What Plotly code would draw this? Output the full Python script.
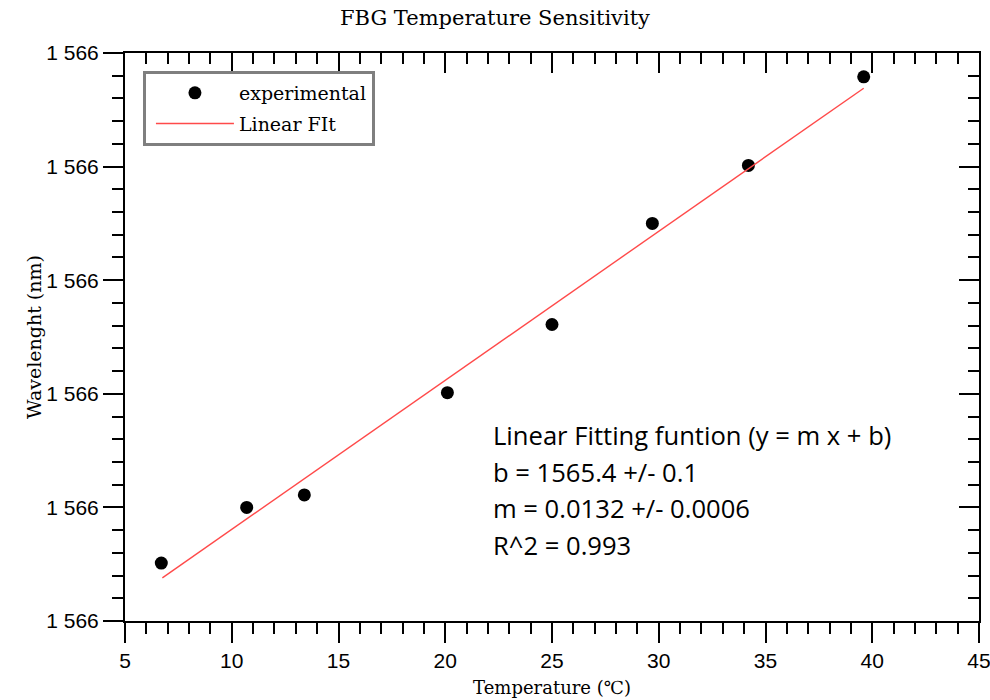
import plotly.graph_objects as go

# Data
temp_c = [6.7, 10.7, 13.4, 20.1, 25.0, 29.7, 34.2, 39.6]
wavelength_nm = [1565.451, 1565.500, 1565.511, 1565.601, 1565.661, 1565.750, 1565.801, 1565.879]
fit_x = [6.75, 39.6]
fit_y = [1565.438, 1565.869]

x_ticks = [5, 10, 15, 20, 25, 30, 35, 40, 45]
y_ticks = [1565.4, 1565.5, 1565.6, 1565.7, 1565.8, 1565.9]
y_ticktext = ["1 566"] * len(y_ticks)

fit_lines = [
    "Linear Fitting funtion (y = m x + b)",
    "b = 1565.4 +/- 0.1",
    "m = 0.0132 +/- 0.0006",
    "R^2 = 0.993",
]

X_RANGE = [5, 45]
Y_RANGE = [1565.4, 1565.9]

SERIF = "DejaVu Serif"
SANS = "Liberation Sans"

fig = go.Figure()
fig.add_trace(go.Scatter(
    x=temp_c, y=wavelength_nm, mode="markers", name="experimental",
    marker=dict(color="black", size=13), legendgroup="a",
))
fig.add_trace(go.Scatter(
    x=fit_x, y=fit_y, mode="lines", name="Linear FIt",
    line=dict(color="#ff4a4a", width=1.4), legendgroup="b",
))
# invisible traces to activate mirrored tick axes
fig.add_trace(go.Scatter(x=[], y=[], xaxis="x2", yaxis="y", showlegend=False, hoverinfo="skip"))
fig.add_trace(go.Scatter(x=[], y=[], xaxis="x", yaxis="y2", showlegend=False, hoverinfo="skip"))

tick_common = dict(tickcolor="black", tickwidth=2, ticklen=20, automargin=False)

fig.update_layout(
    width=990, height=700,
    margin=dict(l=125, r=11, t=53, b=79, autoexpand=False),
    paper_bgcolor="white", plot_bgcolor="white",
    title=dict(text="FBG Temperature Sensitivity", x=0.5, xref="container",
               y=1 - 18 / 700, yref="container", xanchor="center", yanchor="middle",
               font=dict(family=SERIF, size=21, color="black")),
    showlegend=True,
    legend=dict(x=0.021, y=(621 - 71) / 568, xanchor="left", yanchor="top",
                bordercolor="#7f7f7f", borderwidth=3, bgcolor="white",
                font=dict(family=SERIF, size=19, color="black"),
                itemwidth=78, indentation=5, tracegroupgap=3, traceorder="grouped"),
    xaxis=dict(range=X_RANGE, tickmode="array", tickvals=x_ticks,
               ticks="outside", showline=True, linecolor="black", linewidth=2,
               mirror=True, showgrid=False, zeroline=False, ticklabeloverflow="allow",
               tickfont=dict(family=SANS, size=21, color="black"),
               minor=dict(tick0=5, dtick=1, ticks="outside", ticklen=11,
                          tickcolor="black", tickwidth=2),
               title=dict(text="Temperature (℃)", standoff=10,
                          font=dict(family=SERIF, size=18, color="black")),
               **tick_common),
    yaxis=dict(range=Y_RANGE, tickmode="array", tickvals=y_ticks, ticktext=y_ticktext,
               ticks="outside", showline=True, linecolor="black", linewidth=2,
               mirror=True, showgrid=False, zeroline=False, ticklabeloverflow="allow",
               tickfont=dict(family=SANS, size=21, color="black"),
               minor=dict(tick0=1565.4, dtick=0.02, ticks="outside", ticklen=11,
                          tickcolor="black", tickwidth=2),
               title=dict(text="Wavelenght (nm)", standoff=0,
                          font=dict(family=SERIF, size=19, color="black")),
               **tick_common),
    xaxis2=dict(range=X_RANGE, overlaying="x", side="top", anchor="y",
                tickmode="array", tickvals=x_ticks, ticks="inside",
                showticklabels=False, showline=False, showgrid=False, zeroline=False,
                minor=dict(tick0=5, dtick=1, ticks="inside", ticklen=11,
                           tickcolor="black", tickwidth=2),
                **tick_common),
    yaxis2=dict(range=Y_RANGE, overlaying="y", side="right", anchor="x",
                tickmode="array", tickvals=y_ticks, ticks="inside",
                showticklabels=False, showline=False, showgrid=False, zeroline=False,
                minor=dict(tick0=1565.4, dtick=0.02, ticks="inside", ticklen=11,
                           tickcolor="black", tickwidth=2),
                **tick_common),
)

line_px = [436, 472, 508.5, 545]
for txt, p in zip(fit_lines, line_px):
    fig.add_annotation(text=txt, xref="paper", yref="paper",
                       x=(491 - 125) / 854, y=(621 - p) / 568,
                       xanchor="left", yanchor="middle", showarrow=False, align="left",
                       font=dict(family="Open Sans", size=25.6, color="black"))

fig.write_html("out.html")
